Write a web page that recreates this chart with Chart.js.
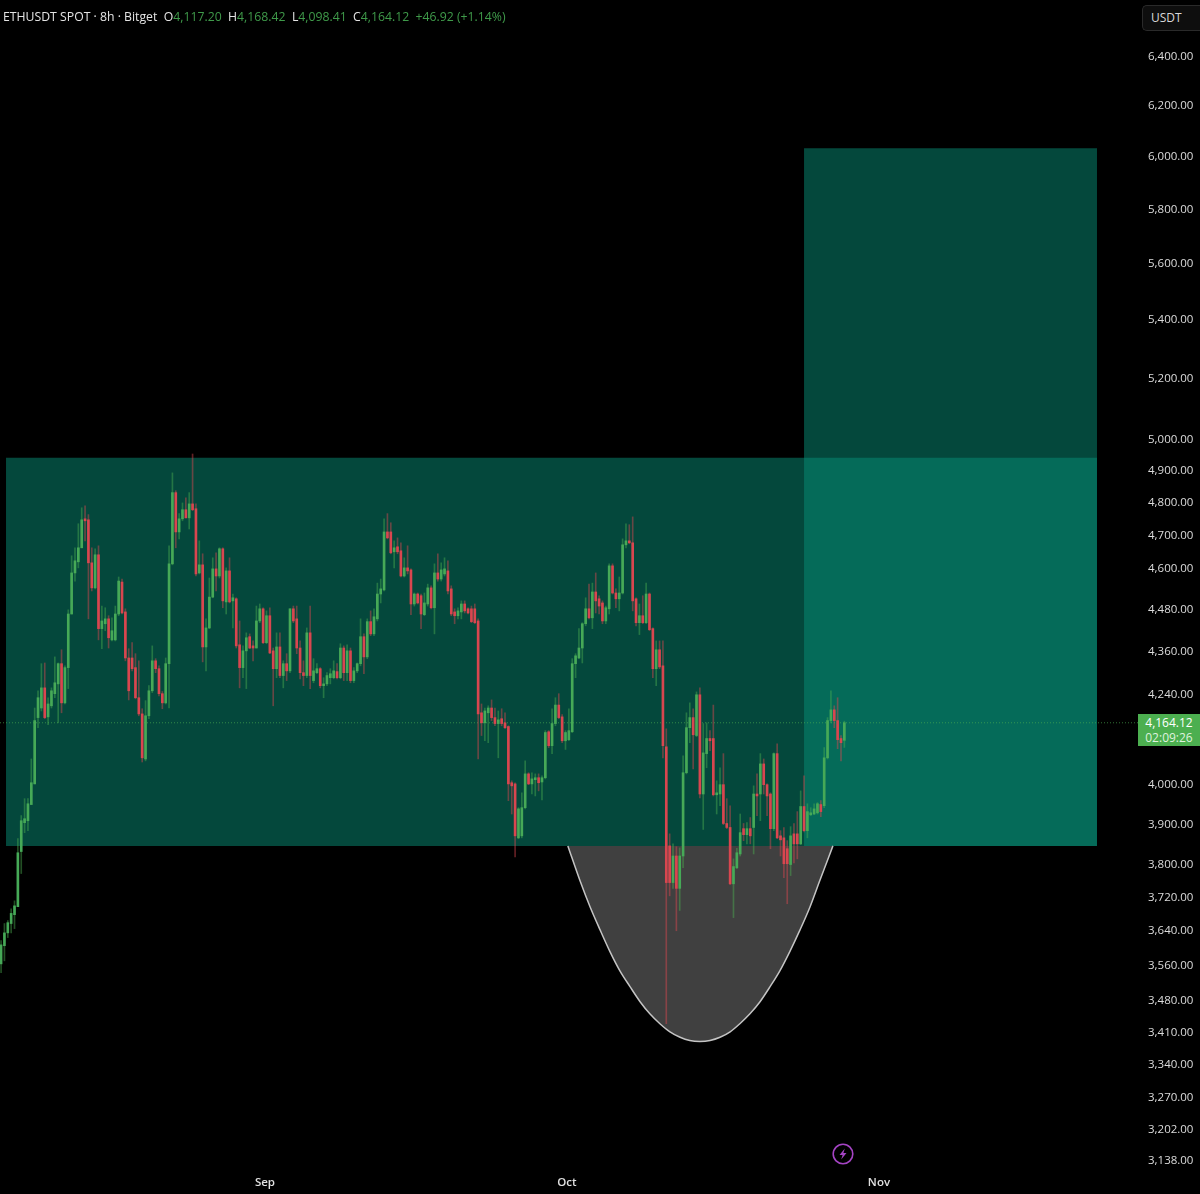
<!DOCTYPE html>
<html lang="en">
<head>
    <meta charset="UTF-8">
    <title>ETHUSDT 8h</title>
    <style>
        html, body { margin: 0; padding: 0; background: #000; }
        body { width: 1200px; height: 1194px; position: relative; overflow: hidden; font-family: 'Open Sans', sans-serif; }
        canvas { position: absolute; left: 0; top: 0; }
        .legend { position: absolute; left: 3px; top: 9px; font-size: 12.25px; line-height: 16px; color: #3f9a4a; white-space: pre; }
        .legend b { font-weight: 500; color: #e4e4e4; }
        .unit { position: absolute; left: 1142px; top: 5px; width: 58px; height: 26px; box-sizing: border-box; border: 1px solid #2a2a2a; border-right: none; border-radius: 5px 0 0 5px; background: #0e0e0e; color: #d8d8d8; font-size: 12px; line-height: 24px; padding-left: 8px; }
        .tag { position: absolute; left: 1138px; top: 714px; width: 62px; height: 32px; background: #4caf50; color: #fff; font-size: 12px; font-weight: 500; line-height: 15px; text-align: center; padding-top: 1px; box-sizing: border-box; }
        .tag span { color: #dff2df; }
        .bolt { position: absolute; left: 832px; top: 1143px; }
    </style>
</head>
<body>
    <canvas id="chart" width="1200" height="1194"></canvas>
    <div class="legend"><b>ETHUSDT SPOT · 8h · Bitget  O</b>4,117.20  <b>H</b>4,168.42  <b>L</b>4,098.41  <b>C</b>4,164.12  +46.92 (+1.14%)</div>
    <div class="unit">USDT</div>
    <div class="tag">4,164.12<br><span>02:09:26</span></div>
    <svg class="bolt" width="22" height="22" viewBox="0 0 22 22">
        <circle cx="11" cy="11" r="9.8" fill="none" stroke="#a544c4" stroke-width="1.6"/>
        <path d="M12.8 5.5 L7.5 12 H10.6 L9.2 16.5 L14.5 10 H11.4 Z" fill="#a544c4"/>
    </svg>

    <script src="https://cdn.jsdelivr.net/npm/chart.js"></script>
    <script>
        const opens = [
            3564,3606,3636,3658,3679,3698,3832,3904,3909,3950,
            4003,4178,4204,4259,4180,4210,4243,4270,4326,4218,
            4315,4467,4587,4620,4662,4750,4747,4617,4543,4641,
            4425,4439,4453,4393,4393,4467,4560,4473,4342,4342,
            4315,4232,4188,4068,4183,4251,4334,4312,4243,4218,
            4326,4614,4831,4710,4750,4778,4753,4796,4781,4587,
            4611,4373,4427,4516,4599,4578,4659,4502,4593,4505,
            4511,4379,4315,4362,4402,4376,4370,4447,4482,4385,
            4462,4362,4312,4373,4293,4326,4306,4482,4453,4370,
            4301,4293,4413,4279,4301,4312,4265,4270,4287,4287,
            4304,4287,4370,4301,4362,4279,4306,4326,4402,4345,
            4445,4410,4453,4525,4537,4710,4710,4650,4665,4653,
            4578,4602,4596,4496,4525,4520,4465,4496,4543,4485,
            4587,4569,4584,4593,4540,4473,4462,4473,4496,4482,
            4482,4482,4447,4191,4164,4191,4204,4178,4162,4175,
            4164,4154,4006,4003,3866,3871,3942,4029,4003,4014,
            4019,4008,4019,4140,4103,4162,4212,4180,4116,4119,
            4140,4326,4342,4370,4439,4482,4456,4531,4511,4499,
            4447,4482,4608,4528,4511,4528,4671,4683,4677,4511,
            4442,4462,4442,4525,4425,4312,4365,4320,4100,3846,
            3756,3821,3742,3821,4032,4151,4178,4130,4240,3977,
            4082,4122,4122,3975,3977,4001,3902,3892,3753,3792,
            3826,3889,3874,3889,3892,3977,3977,4055,4001,3977,
            3889,4082,3871,3866,3839,3800,3876,3876,3851,3945,
            3884,3924,3926,3929,3950,3947,4071,4170,4199,4170,
            4122,4117.20
        ];
        const highs = [
            3618,3658,3665,3693,3712,3864,3922,3965,3965,4068,
            4204,4251,4326,4328,4232,4259,4345,4328,4365,4320,
            4479,4638,4662,4735,4784,4790,4763,4662,4659,4668,
            4490,4485,4462,4456,4490,4575,4569,4482,4368,4385,
            4354,4334,4202,4224,4265,4376,4340,4320,4249,4342,
            4668,4893,4837,4766,4799,4815,4831,4953,4796,4683,
            4644,4453,4572,4632,4647,4662,4662,4602,4632,4525,
            4514,4447,4376,4413,4410,4390,4490,4496,4485,4476,
            4485,4370,4413,4413,4334,4354,4482,4490,4490,4390,
            4334,4427,4490,4340,4326,4315,4287,4301,4312,4334,
            4326,4382,4376,4379,4370,4315,4328,4453,4410,4453,
            4476,4482,4557,4569,4750,4766,4738,4683,4692,4677,
            4632,4668,4599,4528,4528,4525,4528,4554,4549,4614,
            4644,4617,4632,4623,4549,4482,4485,4505,4505,4485,
            4490,4496,4453,4215,4204,4210,4226,4204,4196,4202,
            4191,4156,4011,4006,3942,3980,4063,4032,4032,4029,
            4029,4024,4143,4143,4202,4232,4243,4186,4143,4202,
            4340,4354,4425,4442,4514,4554,4557,4587,4520,4505,
            4490,4614,4614,4540,4575,4689,4735,4732,4756,4514,
            4496,4520,4557,4528,4427,4390,4390,4390,4148,3876,
            3851,3844,3841,4076,4191,4218,4202,4248,4259,4162,
            4164,4143,4212,4011,4045,4082,3965,3947,3814,3840,
            3926,3902,3904,3917,3998,4029,4082,4068,4003,3980,
            4084,4108,3884,3892,3859,3894,3902,3932,3985,4024,
            3952,3942,3952,3955,3960,4098,4178,4251,4210,4232,
            4130,4168.42
        ];
        const lows = [
            3544,3571,3625,3636,3646,3698,3778,3879,3884,3950,
            4003,4151,4196,4175,4159,4204,4232,4164,4191,4215,
            4257,4467,4563,4602,4662,4683,4453,4534,4540,4393,
            4368,4419,4370,4390,4390,4462,4467,4334,4226,4306,
            4229,4183,4060,4063,4175,4246,4301,4237,4202,4215,
            4204,4611,4662,4689,4744,4753,4719,4775,4578,4584,
            4331,4306,4425,4514,4534,4572,4485,4467,4499,4427,
            4370,4259,4287,4257,4368,4334,4370,4442,4382,4382,
            4354,4210,4287,4287,4259,4279,4301,4442,4354,4284,
            4265,4287,4257,4273,4298,4259,4232,4265,4270,4284,
            4284,4284,4279,4279,4273,4273,4301,4320,4298,4340,
            4405,4405,4447,4499,4534,4689,4644,4602,4644,4575,
            4575,4584,4465,4490,4496,4425,4462,4490,4482,4410,
            4563,4563,4578,4525,4462,4439,4453,4453,4470,4467,
            4442,4439,4068,4130,4116,4111,4170,4156,4071,4156,
            4148,3960,3926,3819,3864,3866,3939,4001,3977,3972,
            3985,3962,4016,4098,4082,4156,4175,4111,4093,4116,
            4138,4287,4340,4328,4433,4453,4425,4470,4467,4439,
            4439,4467,4525,4485,4476,4525,4662,4674,4476,4433,
            4408,4439,4439,4419,4287,4265,4312,4071,3429,3724,
            3742,3641,3689,3792,4029,4111,4042,4127,3967,3887,
            4045,4090,3972,3926,3947,3899,3889,3751,3672,3790,
            3821,3859,3851,3851,3826,3922,3909,3977,3922,3839,
            3884,3864,3821,3768,3705,3773,3804,3814,3849,3881,
            3866,3922,3924,3926,3919,3942,4068,4164,4151,4095,
            4063,4098.41
        ];
        const closes = [
            3608,3636,3660,3682,3700,3829,3909,3914,3952,4006,
            4170,4232,4259,4178,4215,4251,4273,4326,4218,4315,
            4467,4587,4623,4662,4747,4744,4617,4543,4641,4425,
            4447,4453,4399,4419,4467,4563,4470,4342,4251,4312,
            4232,4188,4071,4183,4251,4334,4312,4243,4218,4326,
            4614,4831,4710,4750,4778,4753,4796,4778,4584,4611,
            4373,4427,4516,4599,4578,4659,4505,4593,4502,4514,
            4376,4315,4362,4399,4370,4370,4447,4482,4385,4462,
            4356,4312,4373,4293,4326,4306,4482,4447,4370,4301,
            4293,4413,4293,4306,4312,4265,4270,4293,4298,4306,
            4287,4370,4301,4362,4279,4306,4326,4402,4345,4445,
            4410,4459,4525,4540,4710,4692,4647,4662,4650,4578,
            4602,4593,4496,4525,4499,4467,4499,4543,4485,4587,
            4569,4596,4599,4534,4467,4462,4476,4496,4476,4470,
            4445,4442,4188,4164,4196,4204,4178,4162,4172,4162,
            4151,4003,3998,3871,3939,3942,4029,4003,4016,4019,
            4006,4019,4138,4103,4162,4212,4178,4116,4138,4143,
            4326,4348,4370,4439,4482,4456,4531,4505,4490,4447,
            4485,4608,4528,4511,4528,4671,4683,4677,4505,4442,
            4462,4442,4525,4422,4312,4365,4317,4103,3756,3756,
            3821,3742,3821,4032,4151,4178,4132,4240,3977,4084,
            4122,4116,3975,3980,4001,3902,3892,3753,3795,3829,
            3879,3874,3889,3871,3977,3972,4055,4001,3972,3889,
            4082,3866,3861,3802,3802,3871,3851,3851,3945,3884,
            3932,3929,3939,3952,3932,4071,4170,4199,4170,4119,
            4111,4164.12
        ];

        const priceTicks = [6400,6200,6000,5800,5600,5400,5200,5000,4900,4800,4700,4600,4480,4360,4240,4000,3900,3800,3720,3640,3560,3480,3410,3340,3270,3202,3138];
        const monthTicks = [78.55, 168.4, 261.3];
        const monthLabels = ['Sep', 'Oct', 'Nov'];
        const lastPrice = 4164.12;

        // bar numbers and prices of the drawn zones
        const rangeZoneBars = [1.47, 326.2];
        const rangeZoneTop = 4941;
        const targetZoneBars = [239, 326.2];
        const targetZoneTop = 6034;
        const zoneBottom = 3846;

        // the cup drawing under the range
        const cupBars = [168.7,172.3,175.3,178.3,181.2,184.2,187.2,190.2,193.1,196.1,199.1,202.1,205,208,211,214,217,219.9,222.9,225.9,228.9,231.8,234.8,237.8,240.8,243.7,247.6];
        const cupPrices = [3846,3761,3698,3643,3593,3548,3512,3478,3451,3429,3411,3399,3392,3390,3392,3399,3411,3429,3451,3478,3512,3548,3593,3643,3698,3761,3846];

        const up = '#46a957';
        const down = '#d9464f';
        const upWick = 'rgba(76,175,80,0.45)';
        const downWick = 'rgba(224,71,79,0.45)';
        const zoneColor = 'rgba(8,141,118,0.51)';

        const isUp = opens.map((o, i) => closes[i] >= o);

        function zoneDataset(bars, top, order) {
            return {
                type: 'line',
                data: bars.map(x => ({ x: x, y: top })),
                borderWidth: 0,
                pointRadius: 0,
                backgroundColor: zoneColor,
                fill: { value: zoneBottom },
                order: order
            };
        }

        new Chart(document.getElementById('chart'), {
            type: 'bar',
            data: {
                datasets: [
                    {
                        data: opens.map((o, i) => ({ x: i, y: [o, closes[i]] })),
                        backgroundColor: isUp.map(u => u ? up : down),
                        barThickness: 2,
                        minBarLength: 1,
                        grouped: false,
                        order: 0
                    },
                    {
                        data: lows.map((l, i) => ({ x: i, y: [l, highs[i]] })),
                        backgroundColor: isUp.map(u => u ? upWick : downWick),
                        barThickness: 1,
                        grouped: false,
                        order: 1
                    },
                    {
                        type: 'line',
                        data: [{ x: -0.32, y: lastPrice }, { x: 339, y: lastPrice }],
                        borderColor: 'rgba(76,175,80,0.65)',
                        borderWidth: 1,
                        borderDash: [1, 2],
                        pointRadius: 0,
                        order: 2
                    },
                    {
                        type: 'line',
                        data: cupBars.map((x, i) => ({ x: x, y: cupPrices[i] })),
                        borderColor: '#c4c4c4',
                        borderWidth: 1.5,
                        backgroundColor: '#404040',
                        pointRadius: 0,
                        cubicInterpolationMode: 'monotone',
                        fill: { value: zoneBottom },
                        order: 3
                    },
                    zoneDataset(rangeZoneBars, rangeZoneTop, 4),
                    zoneDataset(targetZoneBars, targetZoneTop, 5)
                ]
            },
            options: {
                responsive: false,
                animation: false,
                layout: { padding: 0 },
                plugins: { legend: { display: false }, tooltip: { enabled: false } },
                scales: {
                    x: {
                        type: 'linear',
                        offset: false,
                        min: -0.32,
                        max: 339,
                        grid: { display: false, drawTicks: false },
                        border: { display: false },
                        afterBuildTicks: scale => { scale.ticks = monthTicks.map(v => ({ value: v })); },
                        afterFit: scale => { scale.height = 26; },
                        ticks: {
                            autoSkip: false,
                            maxRotation: 0,
                            padding: 8,
                            color: '#e0e0e0',
                            font: { family: "'Open Sans', sans-serif", size: 11.5, weight: '600' },
                            callback: (value, index) => monthLabels[index]
                        }
                    },
                    y: {
                        type: 'logarithmic',
                        position: 'right',
                        min: 3124,
                        max: 6576,
                        grid: { display: false, drawTicks: false },
                        border: { display: false },
                        afterBuildTicks: scale => { scale.ticks = priceTicks.map(v => ({ value: v })); },
                        afterFit: scale => { scale.width = 60; },
                        ticks: {
                            autoSkip: false,
                            padding: 8,
                            color: '#dcdcdc',
                            font: { family: "'Open Sans', sans-serif", size: 11.5 },
                            callback: value => value.toLocaleString('en-US', { minimumFractionDigits: 2, maximumFractionDigits: 2 })
                        }
                    }
                }
            }
        });
    </script>
</body>
</html>
